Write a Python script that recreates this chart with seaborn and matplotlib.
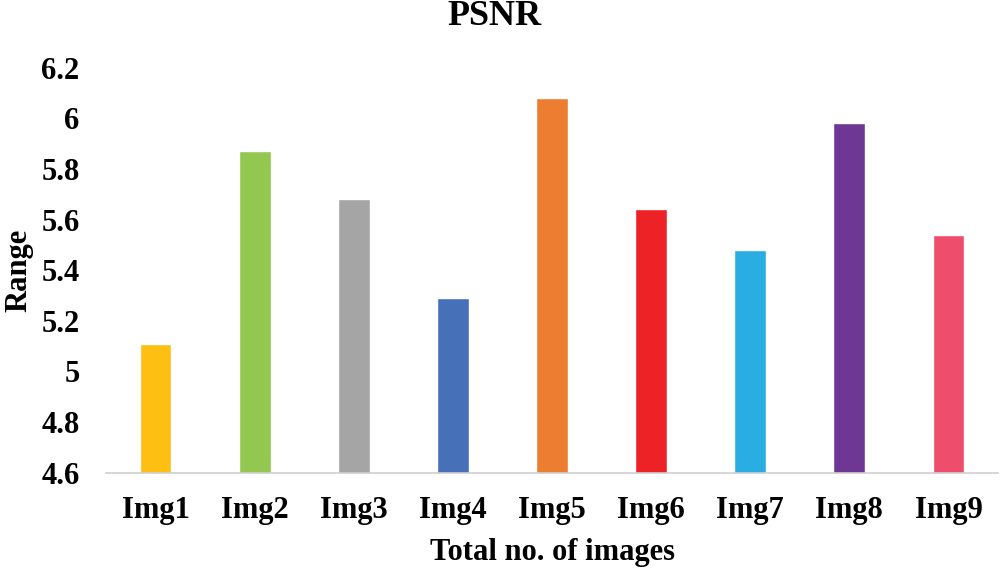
import matplotlib
matplotlib.use("Agg")
import matplotlib.pyplot as plt
import matplotlib.ticker as mticker
import seaborn as sns
import pandas as pd

categories = ["Img1", "Img2", "Img3", "Img4", "Img5", "Img6", "Img7", "Img8", "Img9"]
values = [5.11, 5.87, 5.68, 5.29, 6.08, 5.64, 5.48, 5.98, 5.54]
colors = ["#FDBF12", "#92C850", "#A5A5A5", "#4670B8", "#EC7D31",
          "#EC2226", "#2AADE3", "#6E3794", "#EF4D6C"]
yticks = [4.6, 4.8, 5.0, 5.2, 5.4, 5.6, 5.8, 6.0, 6.2]

sns.set_style("white")
plt.rcParams["font.family"] = ["Liberation Serif", "DejaVu Serif"]
plt.rcParams["font.weight"] = "bold"
plt.rcParams["text.color"] = "black"
plt.rcParams["xtick.labelcolor"] = "black"
plt.rcParams["ytick.labelcolor"] = "black"
plt.rcParams["axes.labelcolor"] = "black"

df = pd.DataFrame({"Image": categories, "Range": values})

fig = plt.figure(figsize=(10, 5.73), dpi=100)
ax = fig.add_axes([0.106, 0.175, 0.892, 0.707])

sns.barplot(data=df, x="Image", y="Range", hue="Image", palette=colors,
            order=categories, hue_order=categories, legend=False,
            width=0.32, ax=ax, saturation=1)

ax.set_ylim(4.6, 6.2)
ax.set_xlim(-0.5, len(categories) - 0.5)
ax.set_yticks(yticks)
ax.yaxis.set_major_formatter(mticker.FuncFormatter(lambda v, p: f"{v:g}"))

for s in ["left", "right", "top"]:
    ax.spines[s].set_visible(False)
ax.spines["bottom"].set_color("#D0D0D0")
ax.spines["bottom"].set_linewidth(1.2)

ax.tick_params(axis="y", length=0, pad=19, labelsize=22, labelcolor="black")
ax.tick_params(axis="x", which="major", length=0, pad=17, labelsize=22, labelcolor="black")
ax.xaxis.set_minor_locator(mticker.FixedLocator([i - 0.5 for i in range(len(categories) + 1)]))
ax.tick_params(axis="x", which="minor", length=7.5, width=1.2, color="#D0D0D0", direction="out")

for lab in ax.get_xticklabels() + ax.get_yticklabels():
    lab.set_fontweight("bold")

ax.set_xlabel("Total no. of images", fontsize=22, fontweight="bold", labelpad=9, color="black")
ax.set_ylabel("Range", fontsize=22, fontweight="bold", labelpad=6, color="black")

fig.text(0.494, 0.956, "PSNR", ha="center", va="baseline", fontsize=26, fontweight="bold", color="black")

fig.savefig("out.png", dpi=100, facecolor="white")
